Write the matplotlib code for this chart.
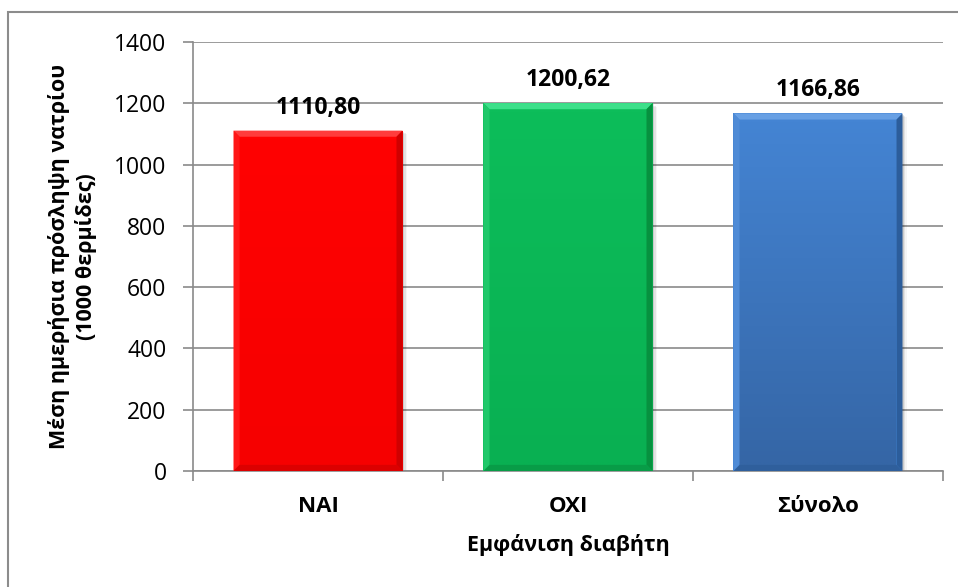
import matplotlib
matplotlib.use("Agg")
from matplotlib import pyplot as plt
from matplotlib.patches import Rectangle, Polygon
import numpy as np

categories = ["NAI", "OXI", "Σύνολο"]
sodium_intake = [1110.80, 1200.62, 1166.86]
y_ticks = [0, 200, 400, 600, 800, 1000, 1200, 1400]

# face top colour, face bottom colour, top highlight, left edge, right edge, bottom edge
bar_styles = [
    ("#ff0202", "#f60000", "#ff3c3c", "#ff1616", "#d00000", "#dc0000"),
    ("#0dbd5a", "#09b052", "#3de08a", "#20c86a", "#07913f", "#089c47"),
    ("#4484d3", "#3566a6", "#68a0e4", "#4f8bd6", "#2c5d9b", "#2f5f9c"),
]

plt.rcParams["font.family"] = ["Open Sans", "DejaVu Sans"]

W, H = 958, 587
fig = plt.figure(figsize=(W / 100, H / 100), dpi=100)
ax = fig.add_axes([193 / W, 1 - 471 / H, 750 / W, 429 / H])

# chart frame, its right and bottom sides run past the image
fig.patches.append(Rectangle((8 / W, -0.1), 1.2, 1.1 - 12 / H,
                             transform=fig.transFigure, fill=False,
                             edgecolor="#8c8c8c", linewidth=1.5))

ax.set_xlim(-0.5, 2.5)
ax.set_ylim(0, 1400)
ax.set_yticks(y_ticks)
ax.yaxis.grid(True, color="#8a8a8a", linewidth=1.2)
ax.set_axisbelow(True)

width = 0.676
bev_x = 0.024
bev_y = 20

for i, (val, st) in enumerate(zip(sodium_intake, bar_styles)):
    face_top, face_bot, top, left, right, bottom = st
    x0, x1 = i - width / 2, i + width / 2

    # soft shadow to the right of the bar
    for k, a in enumerate([0.10, 0.07, 0.04]):
        off = 0.006 * (k + 1)
        ax.add_patch(Rectangle((x0 + off, 0), width, val - 4 * (k + 1),
                               facecolor="black", alpha=a, linewidth=0, zorder=2))

    ax.bar(i, val, width=width, color=face_top, linewidth=0, zorder=3)

    # vertical gradient on the bar face, lighter at the top
    grad = np.linspace(0, 1, 64).reshape(-1, 1, 1)
    c0 = np.array(matplotlib.colors.to_rgb(face_top))
    c1 = np.array(matplotlib.colors.to_rgb(face_bot))
    img = c0 * (1 - grad) + c1 * grad
    ax.imshow(img, extent=(x0 + bev_x, x1 - bev_x, bev_y, val - bev_y),
              aspect="auto", zorder=3.5, interpolation="bilinear")

    # bevelled edges
    ax.add_patch(Polygon([(x0, val), (x1, val), (x1 - bev_x, val - bev_y),
                          (x0 + bev_x, val - bev_y)],
                         facecolor=top, linewidth=0, zorder=4))
    ax.add_patch(Polygon([(x0, 0), (x0, val), (x0 + bev_x, val - bev_y),
                          (x0 + bev_x, bev_y)],
                         facecolor=left, linewidth=0, zorder=4))
    ax.add_patch(Polygon([(x1, 0), (x1, val), (x1 - bev_x, val - bev_y),
                          (x1 - bev_x, bev_y)],
                         facecolor=right, linewidth=0, zorder=4))
    ax.add_patch(Polygon([(x0, 0), (x1, 0), (x1 - bev_x, bev_y),
                          (x0 + bev_x, bev_y)],
                         facecolor=bottom, linewidth=0, zorder=4))

    ax.annotate(f"{val:.2f}".replace(".", ","), (i, val),
                xytext=(0, 8), textcoords="offset points",
                ha="center", va="bottom", fontsize=16.5, fontweight="bold")

for side in ["top", "right"]:
    ax.spines[side].set_visible(False)
for side in ["left", "bottom"]:
    ax.spines[side].set_color("#8a8a8a")
    ax.spines[side].set_linewidth(1.2)

ax.set_xticks([0, 1, 2])
ax.set_xticklabels(categories, fontsize=16, fontweight="bold")
ax.tick_params(axis="x", length=0, pad=18)
ax.set_xticks([-0.5, 0.5, 1.5, 2.5], minor=True)
ax.tick_params(axis="x", which="minor", length=7, color="#8a8a8a", width=1.2)
ax.tick_params(axis="y", length=7, color="#8a8a8a", width=1.2, labelsize=16.5, pad=12)

ax.set_xlabel("Εμφάνιση διαβήτη", fontsize=15.5, fontweight="bold", labelpad=12)
ax.set_ylabel("Μέση ημερήσια πρόσληψη νατρίου\n(1000 θερμίδες)",
              fontsize=15.5, fontweight="bold", linespacing=1.3)
ax.yaxis.set_label_coords(-0.128, 0.5)

fig.savefig("out.png", dpi=100)
